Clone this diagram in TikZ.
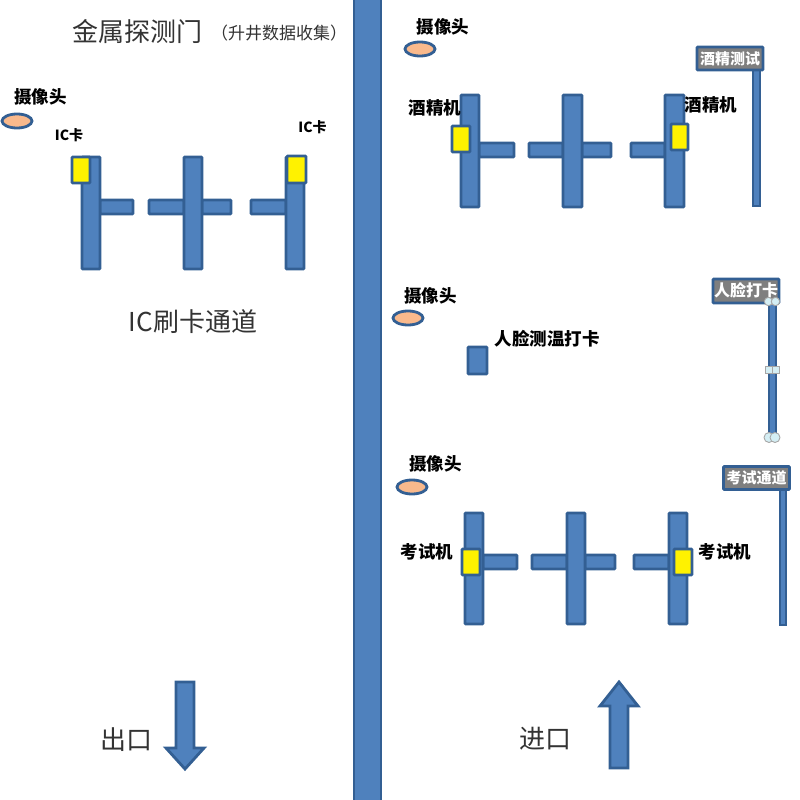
\documentclass[tikz,border=0pt]{standalone}
\usepackage{fontspec}
\setmainfont{Noto Sans CJK SC}
\definecolor{gatefill}{HTML}{4F81BD}
\definecolor{gateline}{HTML}{335F93}
\definecolor{camfill}{HTML}{F9B98C}
\definecolor{signfill}{HTML}{7F7F7F}
\definecolor{handlefill}{HTML}{D4EEF4}
\tikzset{
  gate/.style={draw=gateline,fill=gatefill,line width=2.8pt,rounded corners=0.8pt},
  card/.style={draw=gateline,fill=yellow,line width=2.8pt,rounded corners=0.8pt},
  cam/.style={draw=gateline,fill=camfill,line width=2.8pt},
  sign/.style={draw=gateline,fill=signfill,line width=2.8pt,rounded corners=0.8pt},
  handle/.style={draw=gray!70,fill=handlefill,line width=0.9pt},
  lab/.style={inner sep=0pt,font=\fontsize{17.5}{17.5}\selectfont\bfseries},
  biglab/.style={inner sep=0pt,text=black!80,font=\fontsize{26}{26}\selectfont},
  signlab/.style={inner sep=0pt,text=white,font=\fontsize{15}{15}\selectfont\bfseries}
}
\begin{document}
\begin{tikzpicture}[x=1pt,y=-1pt]
  \useasboundingbox (0,0) rectangle (800,800);
  %%%%%%%%%%%%%The wall%%%%%%%%%%%%%%%%%%%%%%
  \draw[gate,rounded corners=0pt] (354,-3) rectangle (381,803);

  %%%%%%%%%%%%%The IC lane%%%%%%%%%%%%%%%%%%%%%%
  \draw[gate] (100,200) rectangle (133,214);
  \draw[gate] (149,200) rectangle (184,214);
  \draw[gate] (202,200) rectangle (231,214);
  \draw[gate] (251,200) rectangle (286,214);
  \draw[gate] (82,157) rectangle (100,269);
  \draw[gate] (184,157) rectangle (202,269);
  \draw[gate] (286,157) rectangle (304,269);
  \draw[card] (72,157) rectangle (90,183);
  \draw[card] (287,156) rectangle (306,183);
  \draw[cam] (17,121) ellipse (15 and 7);

  \node[lab] (camA) at (40.5,97) {摄像头};
  \node[lab,font=\fontsize{14}{14}\selectfont\bfseries] (cardA) at (69,135) {IC卡};
  \node[lab,font=\fontsize{14}{14}\selectfont\bfseries] (cardB) at (312.5,127) {IC卡};
  \node[biglab] (title) at (137.5,32) {金属探测门};
  \node[inner sep=0pt,text=black!80,font=\fontsize{17}{17}\selectfont] (titlenote) at (279,33.5) {（升井数据收集）};
  \node[biglab] (laneIC) at (193,322) {IC刷卡通道};

  %%%%%%%%%%%%%The alcohol lane%%%%%%%%%%%%%%%%%%%%%%
  \draw[gate] (479,143) rectangle (514,157);
  \draw[gate] (529,143) rectangle (563,157);
  \draw[gate] (582,143) rectangle (611,157);
  \draw[gate] (631,143) rectangle (665,157);
  \draw[gate] (461,95) rectangle (479,207);
  \draw[gate] (563,95) rectangle (582,207);
  \draw[gate] (665,95) rectangle (684,207);
  \draw[card] (452,126) rectangle (470,152);
  \draw[card] (671,124) rectangle (688,150);
  \draw[cam] (420,49) ellipse (15 and 7);
  \draw[gate,rounded corners=0pt] (753,65) rectangle (760,206);
  \node[sign,minimum width=66pt,minimum height=23pt,inner sep=0pt] (signA) at (730,58.5) {};
  \node[signlab] (signAtext) at (730,58.5) {酒精测试};

  \node[lab] (camB) at (443,27) {摄像头};
  \node[lab] (alcA) at (435,108) {酒精机};
  \node[lab] (alcB) at (711,105) {酒精机};

  %%%%%%%%%%%%%The face check%%%%%%%%%%%%%%%%%%%%%%
  \draw[gate] (468,347) rectangle (487,374);
  \draw[cam] (408,318) ellipse (15 and 7);
  \draw[gate,rounded corners=0pt] (769,301) rectangle (776,438);
  \node[sign,minimum width=66pt,minimum height=24pt,inner sep=0pt] (signB) at (746,291) {};
  \node[signlab,font=\fontsize{16}{16}\selectfont\bfseries] (signBtext) at (746,290) {人脸打卡};
  \draw[handle] (768.5,301.5) circle (4.2);
  \draw[handle] (775.5,301.5) circle (4.2);
  \draw[handle] (765,366) rectangle (772.5,373);
  \draw[handle] (772.5,366) rectangle (779.5,373);
  \draw[handle] (769,437.5) circle (5);
  \draw[handle] (775,437.5) circle (5);

  \node[lab] (camC) at (430.5,296) {摄像头};
  \node[lab] (facelab) at (547,339) {人脸测温打卡};

  %%%%%%%%%%%%%The exam lane%%%%%%%%%%%%%%%%%%%%%%
  \draw[gate] (483,555) rectangle (517,569);
  \draw[gate] (532,555) rectangle (567,569);
  \draw[gate] (585,555) rectangle (615,569);
  \draw[gate] (634,555) rectangle (669,569);
  \draw[gate] (465,513) rectangle (483,624);
  \draw[gate] (567,513) rectangle (585,624);
  \draw[gate] (669,513) rectangle (687,624);
  \draw[card] (462,549) rectangle (480,575);
  \draw[card] (674,549) rectangle (692,575);
  \draw[cam] (412,487) ellipse (15 and 7);
  \draw[gate,rounded corners=0pt] (780,488) rectangle (786,625);
  \node[sign,minimum width=66pt,minimum height=23pt,inner sep=0pt] (signC) at (756.5,478) {};
  \node[signlab] (signCtext) at (756.5,478) {考试通道};

  \node[lab] (camD) at (435.5,464) {摄像头};
  \node[lab] (examA) at (427,552) {考试机};
  \node[lab] (examB) at (725,552) {考试机};

  %%%%%%%%%%%%%The arrows%%%%%%%%%%%%%%%%%%%%%%
  \draw[gate,rounded corners=0pt] (176,682) -- (194,682) -- (194,748) -- (204,748) -- (185,769) -- (166,748) -- (176,748) -- cycle;
  \draw[gate,rounded corners=0pt] (610,768) -- (628,768) -- (628,706) -- (638,706) -- (619,682) -- (600,706) -- (610,706) -- cycle;

  \node[biglab] (exitlab) at (126,740) {出口};
  \node[biglab] (entrylab) at (545,739) {进口};
\end{tikzpicture}
\end{document}
